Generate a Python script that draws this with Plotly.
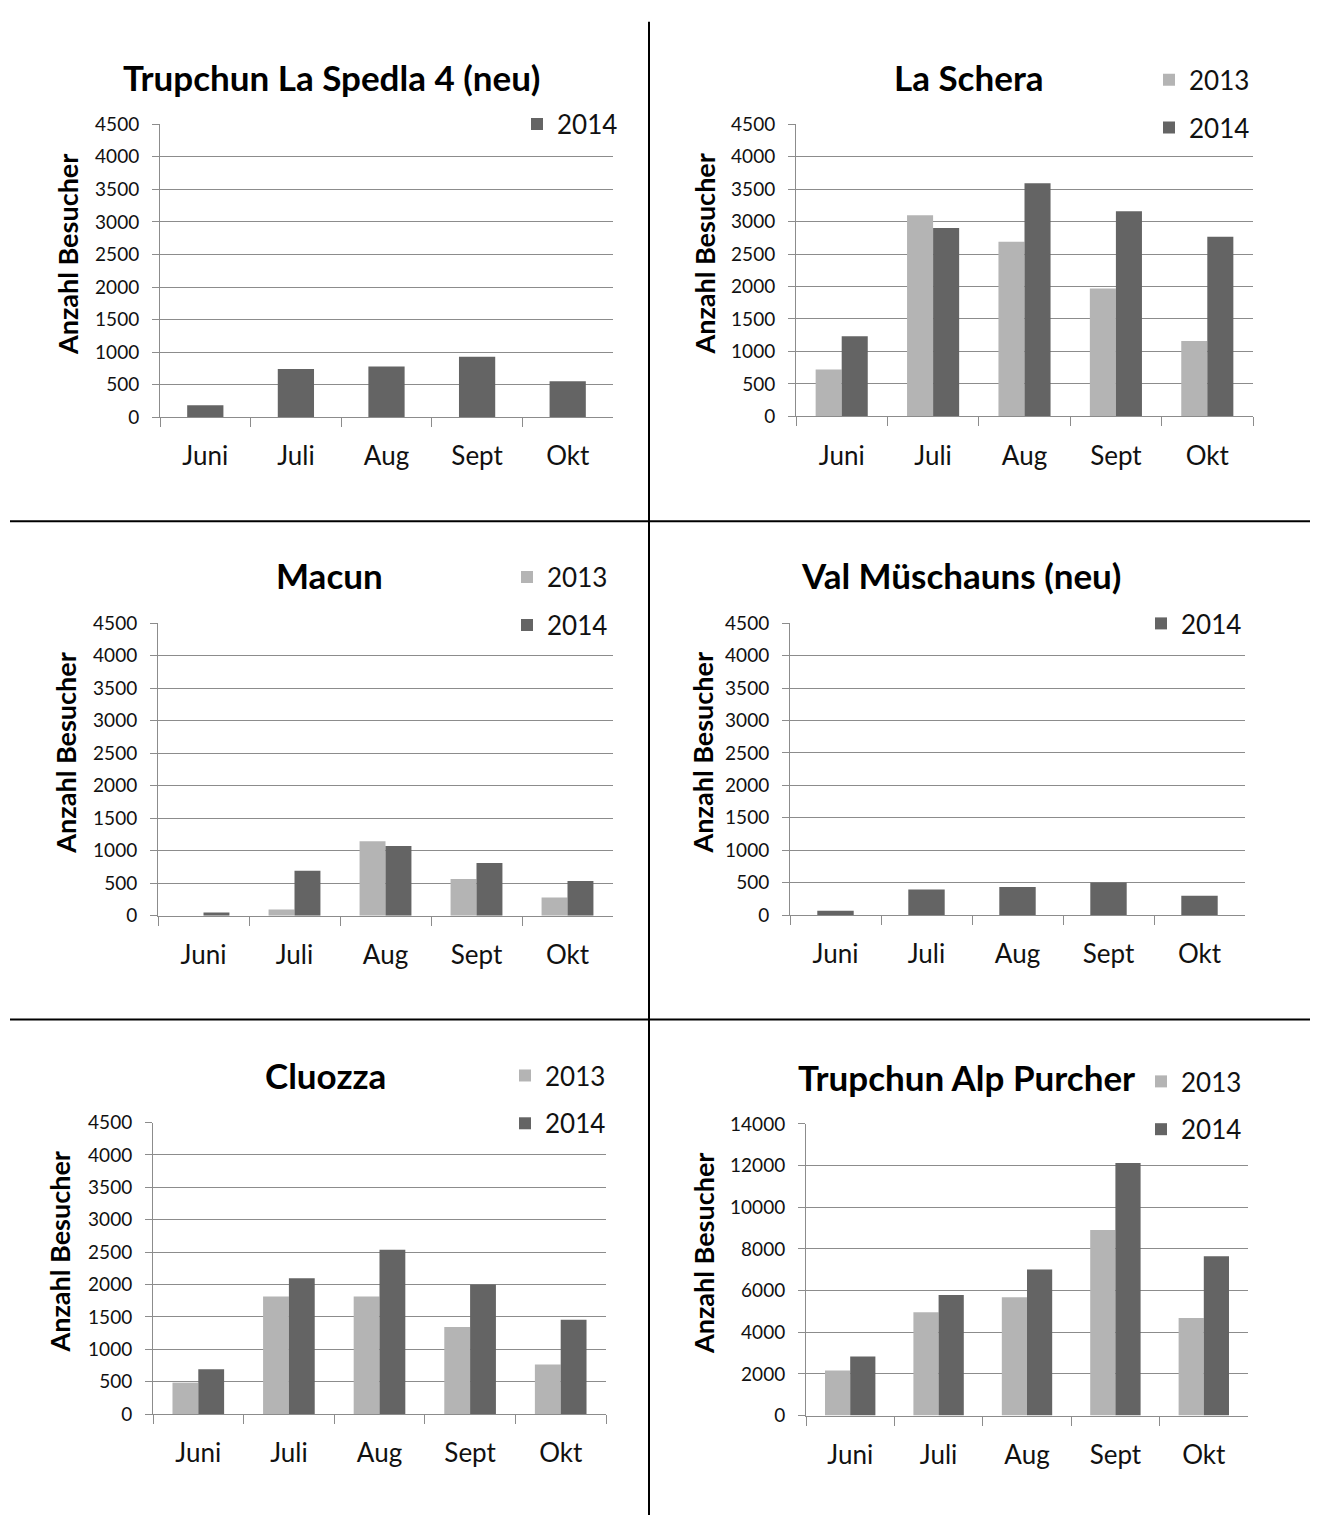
import plotly.graph_objects as go

# Monthly visitor counts per hiking trail counter
months = ["Juni", "Juli", "Aug", "Sept", "Okt"]

spedla_2014 = [185, 740, 780, 930, 555]

schera_2013 = [720, 3100, 2690, 1970, 1160]
schera_2014 = [1235, 2900, 3590, 3160, 2765]

macun_2013 = [0, 95, 1145, 565, 280]
macun_2014 = [50, 690, 1070, 810, 535]

mueschauns_2014 = [70, 395, 435, 505, 300]

cluozza_2013 = [485, 1815, 1815, 1345, 765]
cluozza_2014 = [690, 2095, 2535, 2000, 1455]

purcher_2013 = [2160, 4965, 5675, 8910, 4680]
purcher_2014 = [2840, 5785, 7015, 12125, 7645]

W, H = 1318, 1526
FONT = "Lato"
C13 = "#b4b4b4"
C14 = "#646464"
GRID = "#8c8c8c"


def px_x(v):
    return v / W


def px_y(v):
    return 1 - v / H


panels = [
    dict(title="Trupchun La Spedla 4 (neu)", series=[("2014", spedla_2014)],
         ymax=4500, dtick=500, box=(160, 613, 114, 411.5),
         title_xy=(331, 66), legend_xy=(533, 113), ylab_x=67),
    dict(title="La Schera", series=[("2013", schera_2013), ("2014", schera_2014)],
         ymax=4500, dtick=500, box=(796, 1253, 114, 410.5),
         title_xy=(968, 66), legend_xy=(1165, 68), ylab_x=705),
    dict(title="Macun", series=[("2013", macun_2013), ("2014", macun_2014)],
         ymax=4500, dtick=500, box=(158, 613, 620.5, 917.5),
         title_xy=(329, 572), legend_xy=(523, 573), ylab_x=66),
    dict(title="Val Müschauns (neu)", series=[("2014", mueschauns_2014)],
         ymax=4500, dtick=500, box=(790, 1245, 620.5, 917),
         title_xy=(961, 572), legend_xy=(1157, 620), ylab_x=702),
    dict(title="Cluozza", series=[("2013", cluozza_2013), ("2014", cluozza_2014)],
         ymax=4500, dtick=500, box=(153, 606, 1127.5, 1423.5),
         title_xy=(325, 1079), legend_xy=(521, 1079), ylab_x=60),
    dict(title="Trupchun Alp Purcher", series=[("2013", purcher_2013), ("2014", purcher_2014)],
         ymax=14000, dtick=2000, box=(806, 1248, 1129, 1425),
         title_xy=(966, 1081), legend_xy=(1157, 1085), ylab_x=704),
]

fig = go.Figure()
layout = dict(
    width=W, height=H, autosize=False,
    margin=dict(l=0, r=0, t=0, b=0),
    paper_bgcolor="white", plot_bgcolor="white",
    barmode="overlay",
    font=dict(family=FONT, color="#111111"),
    annotations=[], shapes=[],
)

for i, p in enumerate(panels, start=1):
    sfx = "" if i == 1 else str(i)
    xa, ya = "x" + sfx, "y" + sfx
    leg = "legend" + sfx
    x0, x1, y0, y1 = p["box"]

    n = len(p["series"])
    bw = 0.4 if n == 1 else 0.285
    for k, (name, vals) in enumerate(p["series"]):
        color = C13 if name == "2013" else C14
        offset = -bw / 2 if n == 1 else (-bw if k == 0 else 0)
        fig.add_trace(go.Bar(
            x=months, y=vals, name=name, xaxis=xa, yaxis=ya,
            marker=dict(color=color, line=dict(width=0)),
            width=bw, offset=offset, legend=leg, legendgroup=f"{i}-{name}",
            showlegend=True,
        ))

    layout["xaxis" + sfx] = dict(
        domain=[px_x(x0), px_x(x1)], anchor=ya, type="category",
        range=[-0.5, 4.5], showgrid=False, showline=True, linecolor=GRID,
        linewidth=1, ticks="outside", tickson="boundaries", ticklen=9,
        tickcolor=GRID, tickwidth=1, tickfont=dict(size=26, color="#111111"),
        ticklabelstandoff=16, fixedrange=True,
    )
    layout["yaxis" + sfx] = dict(
        domain=[px_y(y1), px_y(y0)], anchor=xa, range=[0, p["ymax"]],
        tick0=0, dtick=p["dtick"], tickformat="d",
        showgrid=True, gridcolor=GRID, gridwidth=1,
        showline=True, linecolor=GRID, linewidth=1, zeroline=False,
        ticks="outside", ticklen=7, tickcolor=GRID, tickwidth=1,
        tickfont=dict(size=19, color="#111111"), ticklabelstandoff=9,
        fixedrange=True,
    )

    lx, ly = p["legend_xy"]
    layout[leg] = dict(
        x=px_x(lx - 16), y=px_y(ly - 23), xanchor="left", yanchor="top",
        xref="paper", yref="paper", bgcolor="white", borderwidth=0,
        font=dict(size=26, color="#111111", family=FONT),
        orientation="v", traceorder="grouped", tracegroupgap=11,
        itemwidth=30, itemclick=False, itemdoubleclick=False,
    )

    tx, ty = p["title_xy"]
    layout["annotations"].append(dict(
        text=f"<b>{p['title']}</b>", x=px_x(tx), y=px_y(ty),
        xref="paper", yref="paper", xanchor="center", yanchor="middle",
        showarrow=False, font=dict(size=35, family=FONT, color="#000000"),
    ))
    layout["annotations"].append(dict(
        text="<b>Anzahl Besucher</b>", x=px_x(p["ylab_x"]),
        y=px_y((y0 + y1) / 2 - 16),
        xref="paper", yref="paper", xanchor="center", yanchor="middle",
        textangle=-90, showarrow=False,
        font=dict(size=27, family=FONT, color="#000000"),
    ))

# Black frame lines separating the six panels
line = dict(color="black", width=2)
layout["shapes"] += [
    dict(type="line", xref="paper", yref="paper", x0=px_x(649), x1=px_x(649),
         y0=px_y(10), y1=0, line=line),
    dict(type="line", xref="paper", yref="paper", x0=px_x(10), x1=px_x(1310),
         y0=px_y(517), y1=px_y(517), line=line),
    dict(type="line", xref="paper", yref="paper", x0=px_x(10), x1=px_x(1310),
         y0=px_y(1023), y1=px_y(1023), line=line),
]

fig.update_layout(**layout)
fig.write_html("out.html", config={"displayModeBar": False})
